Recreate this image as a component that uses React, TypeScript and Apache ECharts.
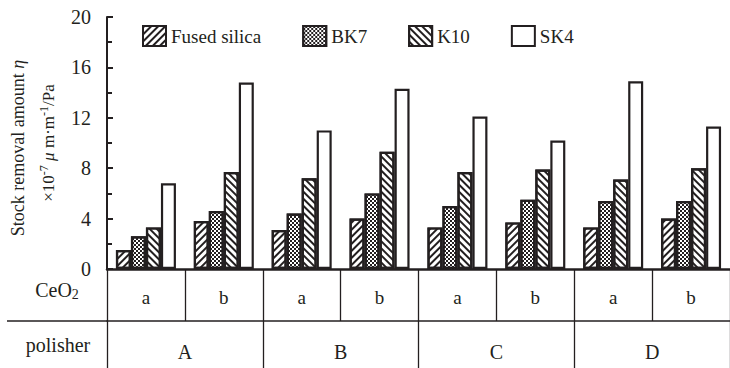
import React, { useEffect, useRef } from 'react';
import * as echarts from 'echarts';

const FONT = 'Liberation Serif, serif';

const categories = ['A-a', 'A-b', 'B-a', 'B-b', 'C-a', 'C-b', 'D-a', 'D-b'];
const polishers = ['A', 'B', 'C', 'D'];
const seriesNames = ['Fused silica', 'BK7', 'K10', 'SK4'];
const fusedSilica = [1.5, 3.8, 3.1, 4.0, 3.3, 3.7, 3.3, 4.0];
const bk7 = [2.6, 4.6, 4.4, 6.0, 5.0, 5.5, 5.4, 5.4];
const k10 = [3.3, 7.7, 7.2, 9.3, 7.7, 7.9, 7.1, 8.0];
const sk4 = [6.8, 14.8, 11.0, 14.3, 12.1, 10.2, 14.9, 11.3];
const yMin = 0;
const yMax = 20;
const yInterval = 4;

const INK = '#231f20';

const decals: any[] = [
  { symbol: 'rect', symbolSize: 1, dashArrayX: [1, 0], dashArrayY: [2, 3], rotation: -Math.PI / 4, color: INK },
  { symbol: 'rect', symbolSize: 1, dashArrayX: [[1.5, 1.5], [0, 1.5, 1.5, 0]], dashArrayY: [1.5, 0], rotation: 0, color: INK },
  { symbol: 'rect', symbolSize: 1, dashArrayX: [1, 0], dashArrayY: [1.8, 2.2], rotation: Math.PI / 4, color: INK },
  null,
];
const values = [fusedSilica, bk7, k10, sk4];

export default function App() {
  const ref = useRef<HTMLDivElement>(null);
  useEffect(() => {
    const chart = echarts.init(ref.current!, null, { renderer: 'svg' });
    const option: any = {
      animation: false,
      backgroundColor: '#fff',
      textStyle: { fontFamily: FONT },
      grid: { left: 107, top: 17, width: 632, height: 252 },
      legend: {
        data: seriesNames,
        left: 137,
        top: 20,
        itemGap: 41,
        itemWidth: 23,
        itemHeight: 20,
        icon: 'rect',
        textStyle: { fontFamily: FONT, fontSize: 19, color: INK },
      },
      xAxis: [
        {
          type: 'category',
          data: categories,
          position: 'bottom',
          axisLine: { lineStyle: { color: INK, width: 2.5 } },
          axisTick: { show: true, length: 52, lineStyle: { color: INK, width: 1.3 } },
          axisLabel: {
            formatter: (v: string) => v.split('-')[1],
            fontFamily: FONT,
            fontSize: 19,
            color: INK,
            margin: 19,
          },
        },
        {
          type: 'category',
          data: polishers,
          position: 'bottom',
          offset: 52,
          axisLine: { lineStyle: { color: INK, width: 1.5 } },
          axisTick: { show: true, length: 47, lineStyle: { color: INK, width: 1.3 } },
          axisLabel: { fontFamily: FONT, fontSize: 20, color: INK, margin: 21 },
        },
      ],
      yAxis: {
        type: 'value',
        min: yMin,
        max: yMax,
        interval: yInterval,
        axisLine: { show: true, lineStyle: { color: INK, width: 2 } },
        axisTick: { show: true, inside: true, length: 6, lineStyle: { color: INK, width: 2 } },
        minorTick: { show: true, splitNumber: 2, length: 5, lineStyle: { color: INK, width: 2 } },
        splitLine: { show: false },
        axisLabel: { fontFamily: FONT, fontSize: 20, color: INK, margin: 16 },
      },
      series: seriesNames.map((name, i) => ({
        name,
        type: 'bar',
        xAxisIndex: 0,
        data: values[i],
        barWidth: 15,
        barGap: '0%',
        itemStyle: {
          color: '#fff',
          borderColor: INK,
          borderWidth: 2.2,
          ...(decals[i] ? { decal: decals[i] } : {}),
        },
      })),
      graphic: [
        {
          type: 'text',
          x: 18,
          y: 148,
          rotation: Math.PI / 2,
          style: {
            text: 'Stock removal amount {i|η}',
            fontFamily: FONT,
            fontSize: 18,
            fill: INK,
            align: 'center',
            verticalAlign: 'middle',
            rich: { i: { fontFamily: FONT, fontSize: 18, fontStyle: 'italic', fill: INK } },
          },
        },
        {
          type: 'text',
          x: 48,
          y: 143,
          rotation: Math.PI / 2,
          style: {
            text: '×10{s|-7} {i|μ} m·m{s|-1}/Pa',
            fontFamily: FONT,
            fontSize: 17,
            fill: INK,
            align: 'center',
            verticalAlign: 'middle',
            rich: {
              s: { fontFamily: FONT, fontSize: 12, fill: INK, verticalAlign: 'top', padding: [0, 0, 8, 0] },
              i: { fontFamily: FONT, fontSize: 17, fontStyle: 'italic', fill: INK },
            },
          },
        },
        {
          type: 'text',
          x: 57,
          y: 290,
          style: {
            text: 'CeO{s|2}',
            fontFamily: FONT,
            fontSize: 20,
            fill: INK,
            align: 'center',
            verticalAlign: 'middle',
            rich: { s: { fontFamily: FONT, fontSize: 14, fill: INK, padding: [9, 0, 0, 0] } },
          },
        },
        {
          type: 'text',
          x: 58,
          y: 345,
          style: { text: 'polisher', fontFamily: FONT, fontSize: 20, fill: INK, align: 'center', verticalAlign: 'middle' },
        },
        {
          type: 'line',
          shape: { x1: 7, y1: 321, x2: 107, y2: 321 },
          style: { stroke: INK, lineWidth: 1.5 },
        },
      ],
    };
    chart.setOption(option);
    return () => chart.dispose();
  }, []);
  return <div ref={ref} style={{ width: 730, height: 368, position: 'absolute', left: 0, top: 0 }} />;
}
